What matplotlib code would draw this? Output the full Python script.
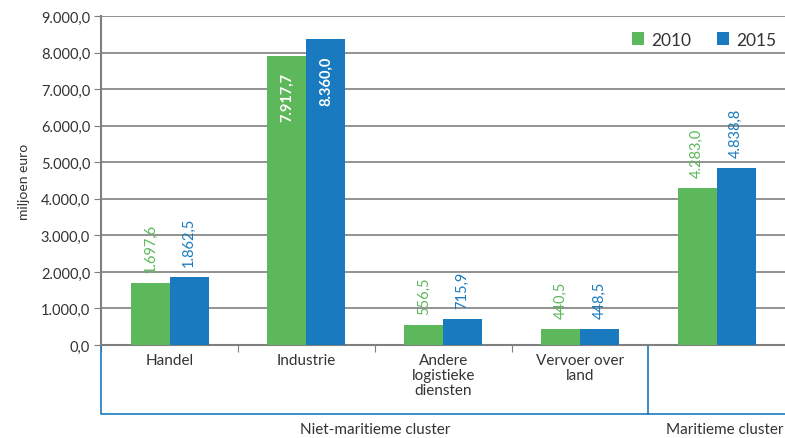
import numpy as np
import matplotlib.pyplot as plt

plt.rcParams['font.family'] = ['Lato', 'DejaVu Sans']

categories = ['Handel', 'Industrie', 'Andere\nlogistieke\ndiensten', 'Vervoer over\nland', '']
vals_2010 = [1697.6, 7917.7, 556.5, 440.5, 4283.0]
vals_2015 = [1862.5, 8360.0, 715.9, 448.5, 4838.8]
series_names = ['2010', '2015']
groups = ['Niet-maritieme cluster', 'Maritieme cluster']

GREEN = '#5cb85a'
BLUE = '#1a7abf'
GRID = '#7f7f7f'
TXT = '#333333'


def nl_fmt(v):
    s = f'{v:,.1f}'
    return s.replace(',', 'X').replace('.', ',').replace('X', '.')


fig = plt.figure(figsize=(7.85, 4.39), dpi=100)
ax = fig.add_axes([0.1290, 0.2118, 0.8710, 0.7495])

x = np.arange(len(categories))
w = 0.285
b1 = ax.bar(x - w / 2, vals_2010, w, color=GREEN, label=series_names[0], zorder=3)
b2 = ax.bar(x + w / 2, vals_2015, w, color=BLUE, label=series_names[1], zorder=3)

ax.set_xlim(-0.5, 4.5)
ax.set_ylim(0, 9000)
ax.set_yticks(np.arange(0, 9001, 1000))
ax.set_yticklabels([nl_fmt(v) for v in np.arange(0, 9001, 1000)], fontsize=10.5, color=TXT)
ax.yaxis.grid(True, color=GRID, linewidth=1.2, zorder=0)
ax.tick_params(axis='y', length=5, color=GRID, pad=3)
ax.set_ylabel('miljoen euro', fontsize=10, color=TXT, labelpad=8)

for s in ['top', 'right']:
    ax.spines[s].set_visible(False)
ax.spines['left'].set_color(GRID)
ax.spines['left'].set_linewidth(1.5)
ax.spines['bottom'].set_color(GRID)
ax.spines['bottom'].set_linewidth(1.5)

# category ticks between groups
ax.set_xticks([-0.5, 0.5, 1.5, 2.5])
ax.set_xticklabels([])
ax.tick_params(axis='x', length=5, color=GRID, direction='out')
for xi, lab in zip(x, categories):
    ax.text(xi, -0.025, lab, transform=ax.get_xaxis_transform(), ha='center', va='top',
            fontsize=11, color=TXT, linespacing=1.1)

# value labels
for bars, vals, col in [(b1, vals_2010, GREEN), (b2, vals_2015, BLUE)]:
    for bar, v in zip(bars, vals):
        cx = bar.get_x() + bar.get_width() / 2
        if v > 7000:
            ax.annotate(nl_fmt(v), (cx, v), xytext=(0, -12), textcoords='offset points',
                        rotation=90, ha='center', va='top', color='white', fontsize=10.5,
                        fontweight='bold')
        else:
            ax.annotate(nl_fmt(v), (cx, v), xytext=(0, 8), textcoords='offset points',
                        rotation=90, ha='center', va='bottom', color=col, fontsize=10.5)

# group bracket
tr = ax.get_xaxis_transform()
yb = -0.21
ax.plot([-0.5, -0.5, 4.5], [0, yb, yb], transform=tr, color=BLUE, lw=1.2, clip_on=False)
ax.plot([3.5, 3.5], [0, yb], transform=tr, color=BLUE, lw=1.2, clip_on=False)
ax.text(1.5, -0.235, groups[0], transform=tr, ha='center', va='top', fontsize=11, color=TXT)
ax.text(4.49, -0.235, groups[1], transform=tr, ha='right', va='top', fontsize=11, color=TXT)

ax.legend(loc='upper right', bbox_to_anchor=(1.01, 1.0), ncol=2, frameon=False,
          fontsize=12.5, handlelength=0.7, handleheight=0.7, columnspacing=1.5,
          handletextpad=0.4, labelcolor=TXT)

fig.savefig('out.png', dpi=100)
